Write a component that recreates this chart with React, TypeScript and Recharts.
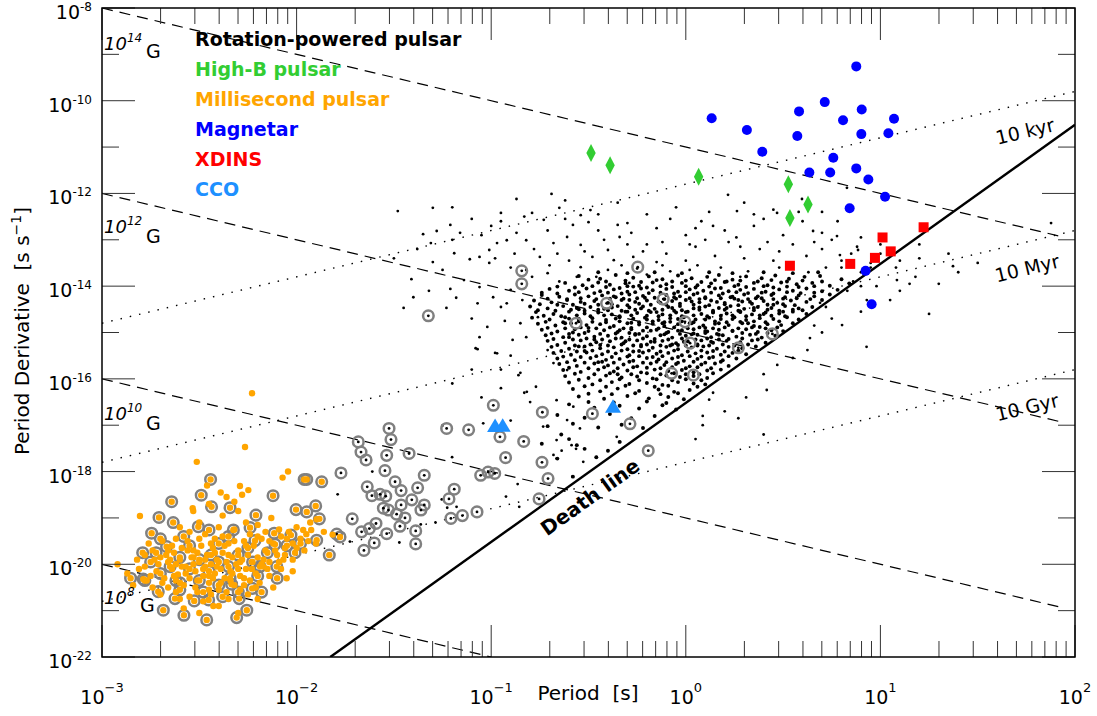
import React from 'react';
import { ComposedChart, Scatter, XAxis, YAxis } from 'recharts';

// all values are [log10 P (s), log10 Pdot (s/s)]
type Pt = [number, number];

const FONT = '"DejaVu Sans", sans-serif';
const PLOT_LEFT = 102;
const PLOT_RIGHT = 1075;
const PLOT_TOP = 8;
const PLOT_BOTTOM = 657;

const magnetars: Pt[] = [
  [0.133, -10.38], [0.314, -10.63], [0.393, -11.1], [0.582, -10.23], [0.573, -10.76], [0.714, -10.03],
  [0.876, -9.26], [0.904, -10.19], [0.808, -10.42], [1.07, -10.39], [0.902, -10.72], [1.041, -10.7],
  [0.758, -11.23], [0.635, -11.55], [0.742, -11.55], [0.876, -11.46], [0.938, -11.7], [1.024, -12.07],
  [0.842, -12.32], [0.924, -13.67], [0.955, -14.39],
];

const highB: Pt[] = [
  [-0.487, -11.13], [-0.389, -11.39], [0.066, -11.64], [0.527, -11.8], [0.628, -12.24], [0.535, -12.53],
];

const xdins: Pt[] = [
  [0.535, -13.56], [0.845, -13.52], [0.972, -13.39], [1.011, -12.95], [1.053, -13.25], [1.222, -12.73],
];

const cco: Pt[] = [[-0.98, -17.03], [-0.941, -17.02], [-0.374, -16.61]];

// sparse rotation-powered pulsars around the main cloud
const psrHalo: Pt[] = [
  [-1.48, -12.38], [-1.3, -12.31], [-0.69, -12.01], [-0.87, -12.12], [-0.95, -12.42], [-1.35, -12.88],
  [-1.28, -12.81], [-1.21, -12.68], [-1.31, -13.07], [-1.16, -12.85], [-1.41, -13.85], [-1.4, -14.24],
  [-1.45, -14.47], [-1.3, -13.48], [-1.19, -13.29], [-1.21, -14.06], [-1.23, -14.47], [-1.11, -13.42],
  [-1.07, -14.37], [-1.14, -13.87], [-1.06, -14.02], [-1.01, -13.5], [-0.99, -14.24], [-0.95, -14.45],
  [-1.02, -14.88], [-1.06, -15.1], [-1.07, -15.36], [-0.98, -15.44], [-0.92, -13.01], [-0.97, -13.07],
  [-1.01, -13.22], [-1.06, -13.37], [-0.87, -12.85], [-0.82, -13.01], [-0.79, -12.42], [-0.73, -12.57],
  [-0.65, -12.31], [-0.54, -12.47], [-0.49, -12.36], [-0.58, -12.68], [-0.68, -13.07], [-0.61, -12.94],
  [-0.54, -13.11], [-0.75, -13.37], [-0.82, -13.65], [-0.79, -13.8], [-0.71, -13.72], [-0.9, -14.08],
  [-0.92, -14.37], [-0.84, -14.3], [-0.76, -14.67], [-0.85, -14.8], [-0.82, -15.1], [-0.89, -15.16],
  [-0.71, -15.38], [-0.68, -15.66], [-0.85, -15.87], [-0.61, -15.81], [-0.54, -13.59], [-0.46, -13.8],
  [-0.48, -13.37], [-0.37, -13.44], [-0.4, -13.22], [-0.34, -12.94], [-0.3, -12.64], [-0.35, -12.68],
  [-0.27, -13.37], [-0.29, -13.93], [-1.5, -13.4], [-1.2, -12.3], [-1.1, -12.55], [-1.38, -13.2],
  [-1.25, -13.65], [-1.18, -14.25], [-1.32, -14.1], [-1.1, -14.7], [-0.93, -14.75], [-0.9, -15.5],
  [-0.95, -15.8], [-0.35, -12.2], [-0.2, -12.45], [-0.05, -12.3], [0.12, -12.4], [0.3, -12.2],
  [0.45, -12.35], [-0.62, -12.15], [-0.15, -12.75], [0.0, -12.9], [0.08, -12.6], [0.2, -12.8],
  [0.35, -12.7], [0.5, -12.9], [0.6, -12.6], [0.7, -12.85], [-0.45, -12.8], [-1.0, -12.7],
  [0.9, -12.95], [-0.2, -13.1], [-0.1, -13.3], [0.0, -13.45], [0.05, -13.15], [0.15, -13.35],
  [0.22, -13.05], [0.3, -13.4], [0.38, -13.2], [0.45, -13.45], [0.55, -13.1], [0.62, -13.35],
  [0.7, -13.2], [0.8, -13.45], [0.88, -13.15], [1.0, -13.3], [1.1, -13.45], [-0.6, -13.45],
  [-0.15, -13.48], [0.1, -13.0], [0.75, -13.0], [1.2, -13.1], [1.35, -13.3], [1.5, -13.5],
  [-0.65, -13.9], [-0.9, -13.6], [-0.4, -13.65], [-0.2, -13.75], [-0.12, -13.55], [0.02, -13.65],
  [0.18, -13.6], [0.32, -13.68], [0.48, -13.6], [0.63, -13.7], [0.72, -13.6], [0.9, -13.7],
  [1.08, -13.6], [1.18, -13.8], [1.3, -13.95], [-0.33, -13.55], [0.06, -13.55], [1.4, -13.7],
  [-0.25, -13.62], [-0.08, -13.68], [0.28, -13.8],
  [-0.95, -12.6], [-0.83, -12.5], [-0.71, -12.8], [-0.62, -12.55], [-0.5, -12.62], [-0.42, -13.0],
  [-0.28, -12.85], [-0.22, -13.25], [-0.08, -12.55], [0.02, -13.1], [0.14, -12.7], [0.26, -12.95],
  [0.4, -12.55], [0.48, -13.25], [0.58, -12.4], [0.66, -13.05], [0.78, -12.6], [0.85, -13.3],
  [-0.78, -13.2], [-0.66, -13.3], [-0.52, -13.25], [-0.3, -13.1], [-0.12, -13.05], [0.28, -13.15],
  [0.42, -13.05], [-0.98, -13.4], [-0.88, -13.3], [-0.7, -13.55], [-0.56, -13.8], [0.8, -13.6],
  [0.95, -13.5], [1.1, -14.1], [1.05, -13.2], [0.9, -14.0], [-1.2, -13.0], [-1.05, -12.9],
  [-0.45, -12.45], [0.05, -12.75], [0.35, -12.45], [0.7, -12.4],
  [0.217, -12.03], [0.263, -12.38], [0.469, -12.42], [0.597, -12.12], [0.654, -12.81], [0.777, -12.92],
  [0.792, -13.33], [0.885, -13.22], [0.828, -11.88], [1.877, -12.64], [1.085, -13.87], [1.373, -13.57],
  [0.803, -14.84], [0.69, -14.36], [0.638, -15.12], [0.625, -15.38], [0.929, -15.31], [0.95, -13.6],
  [0.98, -14.0], [1.05, -14.3], [0.9, -14.55], [0.75, -14.7], [0.7, -15.0], [1.15, -13.95],
  [1.2, -13.4], [1.0, -13.1], [0.86, -13.9], [0.93, -14.3], [0.83, -14.1], [0.72, -14.45],
  [0.66, -14.85], [1.25, -14.6], [0.55, -15.55], [0.47, -15.7], [0.4, -15.9], [0.416, -16.24],
  [0.27, -16.85], [0.087, -17.0], [0.087, -16.8], [0.12, -16.45], [0.14, -16.3], [0.31, -16.4],
  [0.2, -16.7], [0.05, -17.3], [0.4, -17.2],
  [-1.251, -17.01], [-1.041, -16.96], [-1.201, -17.69], [-1.611, -18.0], [-1.789, -18.49], [-0.864, -18.27],
  [-0.924, -18.54], [-0.856, -18.76], [-1.226, -18.78], [-1.178, -18.76], [-1.286, -19.1], [-1.362, -19.14],
  [-1.472, -19.53], [-1.726, -19.51], [-1.254, -18.6], [-0.664, -17.72], [-0.638, -17.55], [-0.564, -17.51],
  [-0.527, -17.79], [-0.458, -17.69], [-0.583, -18.11], [-0.338, -17.36], [-0.587, -17.43], [-0.733, -17.03],
  [-0.8, -16.5], [-0.83, -16.3], [-0.95, -16.2], [-1.05, -16.4], [-0.9, -16.9], [-1.1, -15.8],
  [-1.2, -16.1], [-0.817, -16.28], [-0.97, -15.45], [-1.08, -15.34], [-0.86, -15.92], [-0.77, -16.17],
  [-0.664, -16.46], [-0.578, -16.6], [-0.61, -16.89], [-0.544, -17.07], [-0.355, -17.25], [-0.68, -17.64],
  [-0.664, -17.32],
];

// the dense body of the rotation-powered population
const psrCore: Pt[] = [
  [-0.55, -13.78], [-0.44, -13.84], [-0.36, -13.76], [-0.27, -13.82], [-0.19, -13.79], [-0.12, -13.85],
  [-0.04, -13.77], [0.03, -13.83], [0.11, -13.8], [0.17, -13.76], [0.24, -13.86], [0.31, -13.79],
  [0.39, -13.83], [0.46, -13.77], [0.53, -13.84], [0.61, -13.8], [0.69, -13.78], [0.8, -13.85],
  [-0.62, -13.93], [-0.53, -13.98], [-0.45, -13.92], [-0.39, -13.97], [-0.31, -13.94], [-0.24, -13.99],
  [-0.17, -13.92], [-0.1, -13.96], [-0.02, -13.93], [0.06, -13.98], [0.13, -13.94], [0.2, -13.91],
  [0.27, -13.97], [0.35, -13.93], [0.42, -13.98], [0.49, -13.92], [0.57, -13.96], [0.65, -13.93],
  [0.74, -13.99], [0.84, -13.94],
  [-0.7, -14.06], [-0.6, -14.1], [-0.51, -14.05], [-0.44, -14.11], [-0.37, -14.07], [-0.3, -14.12],
  [-0.23, -14.05], [-0.17, -14.09], [-0.1, -14.06], [-0.04, -14.12], [0.02, -14.07], [0.09, -14.1],
  [0.15, -14.05], [0.22, -14.11], [0.28, -14.08], [0.35, -14.06], [0.41, -14.12], [0.48, -14.07],
  [0.55, -14.1], [0.62, -14.05], [0.7, -14.11], [0.78, -14.08],
  [-0.74, -14.19], [-0.65, -14.23], [-0.57, -14.18], [-0.5, -14.22], [-0.43, -14.2], [-0.36, -14.24],
  [-0.29, -14.18], [-0.22, -14.21], [-0.16, -14.25], [-0.1, -14.19], [-0.03, -14.22], [0.04, -14.18],
  [0.1, -14.24], [0.17, -14.2], [0.24, -14.23], [0.3, -14.18], [0.37, -14.22], [0.44, -14.19],
  [0.51, -14.24], [0.58, -14.2], [0.66, -14.22], [0.74, -14.18],
  [-0.78, -14.31], [-0.69, -14.35], [-0.61, -14.3], [-0.54, -14.34], [-0.47, -14.32], [-0.4, -14.36],
  [-0.33, -14.3], [-0.26, -14.34], [-0.2, -14.31], [-0.13, -14.36], [-0.07, -14.32], [0.0, -14.3],
  [0.07, -14.35], [0.13, -14.31], [0.2, -14.36], [0.27, -14.3], [0.33, -14.34], [0.4, -14.32],
  [0.47, -14.36], [0.54, -14.31], [0.62, -14.34], [0.7, -14.3],
  [-0.8, -14.44], [-0.71, -14.48], [-0.63, -14.43], [-0.56, -14.47], [-0.49, -14.45], [-0.42, -14.49],
  [-0.35, -14.43], [-0.29, -14.46], [-0.22, -14.44], [-0.16, -14.49], [-0.09, -14.45], [-0.03, -14.43],
  [0.04, -14.48], [0.1, -14.44], [0.17, -14.47], [0.23, -14.43], [0.3, -14.49], [0.37, -14.45],
  [0.44, -14.47], [0.51, -14.43], [0.58, -14.48], [0.65, -14.45],
  [-0.77, -14.56], [-0.68, -14.6], [-0.6, -14.55], [-0.52, -14.59], [-0.45, -14.57], [-0.38, -14.61],
  [-0.31, -14.55], [-0.25, -14.58], [-0.18, -14.56], [-0.12, -14.61], [-0.05, -14.57], [0.01, -14.55],
  [0.08, -14.6], [0.14, -14.56], [0.21, -14.59], [0.28, -14.55], [0.34, -14.61], [0.41, -14.57],
  [0.48, -14.59], [0.55, -14.55], [0.62, -14.6],
  [-0.79, -14.68], [-0.7, -14.72], [-0.62, -14.67], [-0.55, -14.71], [-0.48, -14.69], [-0.41, -14.73],
  [-0.34, -14.67], [-0.27, -14.7], [-0.21, -14.68], [-0.14, -14.73], [-0.08, -14.69], [-0.01, -14.67],
  [0.05, -14.72], [0.12, -14.68], [0.18, -14.71], [0.25, -14.67], [0.31, -14.73], [0.38, -14.69],
  [0.45, -14.71], [0.52, -14.67], [0.58, -14.72],
  [-0.76, -14.81], [-0.67, -14.85], [-0.59, -14.8], [-0.51, -14.84], [-0.44, -14.82], [-0.37, -14.86],
  [-0.3, -14.8], [-0.24, -14.83], [-0.17, -14.81], [-0.11, -14.86], [-0.04, -14.82], [0.02, -14.8],
  [0.09, -14.85], [0.15, -14.81], [0.22, -14.84], [0.29, -14.8], [0.35, -14.86], [0.42, -14.82],
  [0.49, -14.84], [0.55, -14.8],
  [-0.74, -14.94], [-0.66, -14.98], [-0.57, -14.93], [-0.5, -14.97], [-0.42, -14.95], [-0.35, -14.99],
  [-0.28, -14.93], [-0.22, -14.96], [-0.15, -14.94], [-0.09, -14.99], [-0.02, -14.95], [0.04, -14.93],
  [0.11, -14.98], [0.17, -14.94], [0.24, -14.97], [0.31, -14.93], [0.37, -14.99], [0.44, -14.95],
  [0.5, -14.97],
  [-0.72, -15.06], [-0.63, -15.1], [-0.55, -15.05], [-0.47, -15.09], [-0.4, -15.07], [-0.33, -15.11],
  [-0.26, -15.05], [-0.2, -15.08], [-0.13, -15.06], [-0.07, -15.11], [0.0, -15.07], [0.06, -15.05],
  [0.13, -15.1], [0.19, -15.06], [0.26, -15.09], [0.33, -15.05], [0.39, -15.11], [0.46, -15.07],
  [-0.71, -15.18], [-0.62, -15.22], [-0.54, -15.17], [-0.46, -15.21], [-0.39, -15.19], [-0.32, -15.23],
  [-0.25, -15.17], [-0.18, -15.2], [-0.12, -15.18], [-0.05, -15.23], [0.01, -15.19], [0.08, -15.17],
  [0.14, -15.22], [0.21, -15.18], [0.28, -15.21], [0.34, -15.17], [0.41, -15.22],
  [-0.69, -15.31], [-0.6, -15.35], [-0.52, -15.3], [-0.44, -15.34], [-0.37, -15.32], [-0.3, -15.36],
  [-0.23, -15.3], [-0.17, -15.33], [-0.1, -15.31], [-0.04, -15.36], [0.03, -15.32], [0.09, -15.3],
  [0.16, -15.35], [0.22, -15.31], [0.29, -15.34], [0.36, -15.3],
  [-0.68, -15.44], [-0.59, -15.48], [-0.51, -15.43], [-0.43, -15.47], [-0.36, -15.45], [-0.29, -15.49],
  [-0.22, -15.43], [-0.15, -15.46], [-0.09, -15.44], [-0.02, -15.49], [0.05, -15.45], [0.11, -15.43],
  [0.18, -15.48], [0.24, -15.44], [0.31, -15.47],
  [-0.66, -15.56], [-0.57, -15.6], [-0.49, -15.55], [-0.41, -15.59], [-0.34, -15.57], [-0.27, -15.61],
  [-0.2, -15.55], [-0.14, -15.58], [-0.07, -15.56], [-0.01, -15.61], [0.06, -15.57], [0.12, -15.55],
  [0.19, -15.6], [0.26, -15.56],
  [-0.65, -15.68], [-0.56, -15.72], [-0.47, -15.67], [-0.4, -15.71], [-0.32, -15.69], [-0.25, -15.73],
  [-0.18, -15.67], [-0.11, -15.7], [-0.05, -15.68], [0.02, -15.73], [0.08, -15.69], [0.15, -15.67],
  [0.22, -15.72],
  [-0.63, -15.81], [-0.54, -15.85], [-0.45, -15.8], [-0.37, -15.84], [-0.3, -15.82], [-0.23, -15.86],
  [-0.16, -15.8], [-0.09, -15.83], [-0.02, -15.81], [0.04, -15.86], [0.11, -15.82], [0.18, -15.8],
  [-0.62, -15.94], [-0.5, -15.98], [-0.41, -15.93], [-0.33, -15.97], [-0.25, -15.95], [-0.17, -15.99],
  [-0.1, -15.93], [-0.03, -15.96], [0.04, -15.94], [0.11, -15.98],
  [-0.6, -16.08], [-0.48, -16.12], [-0.38, -16.07], [-0.29, -16.11], [-0.2, -16.09], [-0.12, -16.13],
  [-0.04, -16.07], [0.04, -16.1], [0.1, -16.12],
  [-0.58, -16.22], [-0.44, -16.27], [-0.35, -16.21], [-0.24, -16.26], [-0.14, -16.23], [-0.06, -16.28],
  [0.02, -16.24],
  [-0.55, -16.38], [-0.42, -16.43], [-0.3, -16.37], [-0.19, -16.42], [-0.09, -16.39], [-0.01, -16.44],
  [-0.6, -16.55], [-0.47, -16.62], [-0.34, -16.58], [-0.24, -16.64], [-0.12, -16.57], [-0.05, -16.66],
  [-0.66, -16.78], [-0.52, -16.84], [-0.39, -16.76], [-0.28, -16.85], [-0.16, -16.8],
  [-0.71, -17.02], [-0.58, -16.97], [-0.45, -17.05], [-0.33, -16.99], [-0.22, -17.06],
  [-0.64, -17.2], [-0.56, -17.43], [-0.52, -17.51], [-0.46, -17.69], [-0.58, -18.11], [-0.66, -17.72],
  [-0.34, -17.36], [-0.6, -17.3], [-0.4, -17.55], [-0.74, -17.4],
  [-0.32, -14.27], [-0.18, -14.4], [-0.05, -14.27], [0.12, -14.41], [0.25, -14.27], [-0.4, -14.52],
  [-0.2, -14.64], [-0.02, -14.52], [0.18, -14.64], [0.35, -14.52], [-0.48, -14.77], [-0.28, -14.9],
  [-0.08, -14.77], [0.1, -14.9], [0.28, -14.77], [-0.36, -15.02], [-0.16, -15.14], [0.04, -15.02],
  [0.22, -15.14], [-0.44, -15.27], [-0.24, -15.4], [-0.04, -15.27], [0.14, -15.4], [-0.3, -15.52],
  [-0.1, -15.64], [0.08, -15.52], [-0.45, -15.64], [-0.6, -15.1], [-0.62, -14.8], [-0.58, -14.4],
  [0.5, -14.27], [0.6, -14.52], [0.44, -14.64], [-0.52, -15.4], [-0.2, -15.76], [0.0, -15.9],
  [-0.35, -15.9], [0.4, -14.0], [0.0, -14.0], [-0.3, -14.0],
];

// more of the dense body, read between the rows above
const psrCoreFill: Pt[] = [
  [-0.45, -13.7], [-0.3, -13.72], [-0.16, -13.7], [-0.02, -13.72], [0.12, -13.7], [0.24, -13.72],
  [0.4, -13.7], [0.55, -13.72], [0.68, -13.7],
  [-0.5, -13.86], [-0.41, -13.9], [-0.31, -13.88], [-0.23, -13.91], [-0.15, -13.87], [-0.07, -13.9],
  [0.0, -13.88], [0.08, -13.91], [0.15, -13.87], [0.21, -13.9], [0.28, -13.88], [0.37, -13.9],
  [0.44, -13.87], [0.52, -13.9], [0.6, -13.88], [0.7, -13.9],
  [-0.66, -14.01], [-0.57, -14.03], [-0.48, -14.0], [-0.41, -14.02], [-0.34, -14.04], [-0.27, -14.01],
  [-0.2, -14.03], [-0.13, -14.0], [-0.07, -14.02], [0.05, -14.03], [0.12, -14.01], [0.18, -14.04],
  [0.25, -14.0], [0.31, -14.02], [0.45, -14.03], [0.52, -14.01], [0.58, -14.02], [0.66, -14.0],
  [-0.74, -14.14], [-0.66, -14.16], [-0.55, -14.13], [-0.47, -14.15], [-0.4, -14.14], [-0.33, -14.16],
  [-0.26, -14.13], [-0.19, -14.15], [-0.13, -14.14], [-0.06, -14.16], [0.0, -14.13], [0.06, -14.15],
  [0.13, -14.14], [0.19, -14.16], [0.26, -14.13], [0.32, -14.15], [0.39, -14.14], [0.45, -14.16],
  [0.52, -14.13], [0.59, -14.15], [0.66, -14.14],
  [-0.71, -14.27], [-0.61, -14.28], [-0.54, -14.26], [-0.46, -14.28], [-0.39, -14.27], [-0.25, -14.26],
  [-0.11, -14.28], [0.02, -14.26], [0.07, -14.28], [0.18, -14.26], [0.32, -14.28], [0.39, -14.26],
  [0.45, -14.28], [0.57, -14.26], [0.64, -14.28],
  [-0.75, -14.39], [-0.66, -14.4], [-0.52, -14.38], [-0.45, -14.4], [-0.38, -14.39], [-0.3, -14.41],
  [-0.24, -14.38], [-0.1, -14.4], [-0.03, -14.38], [0.04, -14.4], [0.2, -14.39], [0.27, -14.41],
  [0.34, -14.38], [0.42, -14.4], [0.5, -14.39], [0.56, -14.41],
  [-0.76, -14.52], [-0.67, -14.53], [-0.59, -14.51], [-0.52, -14.53], [-0.45, -14.51], [-0.33, -14.53],
  [-0.26, -14.51], [-0.19, -14.53], [-0.12, -14.51], [-0.06, -14.53], [0.07, -14.51], [0.14, -14.53],
  [0.2, -14.51], [0.27, -14.53], [0.42, -14.51], [0.48, -14.53], [0.55, -14.51],
  [-0.73, -14.64], [-0.64, -14.65], [-0.56, -14.63], [-0.49, -14.65], [-0.42, -14.63], [-0.34, -14.65],
  [-0.28, -14.63], [-0.14, -14.65], [-0.08, -14.63], [-0.02, -14.65], [0.04, -14.63], [0.11, -14.65],
  [0.24, -14.63], [0.31, -14.65], [0.38, -14.63], [0.51, -14.65],
  [-0.72, -14.77], [-0.63, -14.78], [-0.55, -14.76], [-0.41, -14.78], [-0.34, -14.76], [-0.24, -14.78],
  [-0.17, -14.76], [-0.11, -14.78], [-0.02, -14.76], [0.04, -14.78], [0.15, -14.76], [0.21, -14.78],
  [0.35, -14.76], [0.41, -14.78], [0.48, -14.76],
  [-0.71, -14.9], [-0.62, -14.91], [-0.54, -14.89], [-0.46, -14.91], [-0.39, -14.89], [-0.32, -14.91],
  [-0.2, -14.89], [-0.14, -14.91], [-0.06, -14.89], [0.01, -14.91], [0.07, -14.89], [0.14, -14.91],
  [0.2, -14.89], [0.27, -14.91], [0.34, -14.89], [0.41, -14.91], [0.47, -14.89],
  [-0.69, -15.02], [-0.6, -15.03], [-0.52, -15.01], [-0.44, -15.03], [-0.29, -15.01], [-0.24, -15.03],
  [-0.1, -15.01], [-0.03, -15.03], [0.1, -15.01], [0.16, -15.03], [0.29, -15.01], [0.36, -15.03],
  [0.42, -15.01],
  [-0.68, -15.14], [-0.58, -15.15], [-0.51, -15.13], [-0.43, -15.15], [-0.36, -15.13], [-0.29, -15.15],
  [-0.22, -15.13], [-0.09, -15.15], [-0.02, -15.13], [0.05, -15.15], [0.11, -15.13], [0.17, -15.15],
  [0.29, -15.13], [0.37, -15.15],
  [-0.66, -15.27], [-0.57, -15.28], [-0.49, -15.26], [-0.4, -15.28], [-0.33, -15.26], [-0.27, -15.28],
  [-0.2, -15.26], [-0.13, -15.28], [-0.07, -15.26], [0.0, -15.28], [0.06, -15.26], [0.12, -15.28],
  [0.19, -15.26], [0.25, -15.28], [0.32, -15.26],
  [-0.64, -15.4], [-0.56, -15.41], [-0.48, -15.39], [-0.4, -15.41], [-0.33, -15.39], [-0.27, -15.41],
  [-0.19, -15.39], [-0.13, -15.41], [-0.06, -15.39], [0.01, -15.41], [0.08, -15.39], [0.2, -15.41],
  [0.27, -15.39],
  [-0.63, -15.52], [-0.54, -15.53], [-0.46, -15.51], [-0.38, -15.53], [-0.24, -15.51], [-0.17, -15.53],
  [-0.12, -15.51], [-0.04, -15.53], [0.02, -15.51], [0.14, -15.53], [0.22, -15.51],
  [-0.61, -15.64], [-0.52, -15.65], [-0.43, -15.63], [-0.37, -15.65], [-0.29, -15.63], [-0.22, -15.65],
  [-0.15, -15.63], [-0.04, -15.65], [0.04, -15.63], [0.1, -15.65], [0.18, -15.63],
  [-0.6, -15.76], [-0.5, -15.77], [-0.42, -15.75], [-0.35, -15.77], [-0.27, -15.75], [-0.13, -15.77],
  [-0.07, -15.75], [0.0, -15.77], [0.06, -15.75], [0.13, -15.77],
  [-0.57, -15.89], [-0.47, -15.9], [-0.39, -15.88], [-0.28, -15.9], [-0.2, -15.88], [-0.13, -15.9],
  [-0.06, -15.88], [0.07, -15.9], [0.14, -15.88],
  [-0.55, -16.02], [-0.44, -16.03], [-0.34, -16.01], [-0.24, -16.03], [-0.15, -16.01], [-0.07, -16.03],
  [0.0, -16.01], [0.08, -16.03],
  [-0.52, -16.16], [-0.41, -16.17], [-0.31, -16.15], [-0.16, -16.17], [-0.09, -16.15], [0.06, -16.17],
  [-0.5, -16.32], [-0.38, -16.33], [-0.26, -16.31], [-0.13, -16.33], [-0.04, -16.31],
  [-0.5, -16.5], [-0.37, -16.51], [-0.2, -16.49], [-0.1, -16.52],
  [-0.37, -14.22], [-0.29, -14.3], [-0.21, -14.25], [-0.14, -14.33], [-0.06, -14.24], [0.03, -14.33],
  [0.1, -14.26], [0.16, -14.34], [0.23, -14.24], [0.29, -14.33], [0.36, -14.26],
  [-0.38, -14.46], [-0.3, -14.55], [-0.23, -14.48], [-0.15, -14.56], [-0.07, -14.47], [0.0, -14.56],
  [0.07, -14.46], [0.14, -14.57], [0.21, -14.47], [0.28, -14.56], [0.35, -14.47],
  [-0.36, -14.7], [-0.28, -14.79], [-0.2, -14.72], [-0.12, -14.8], [-0.04, -14.71], [0.03, -14.8],
  [0.1, -14.72], [0.17, -14.8], [0.24, -14.71], [0.32, -14.8],
  [-0.34, -14.95], [-0.26, -15.03], [-0.18, -14.96], [-0.11, -15.04], [-0.04, -14.96], [0.03, -15.04],
  [0.1, -14.97], [0.17, -15.05], [0.24, -14.96],
  [-0.31, -15.19], [-0.23, -15.27], [-0.16, -15.2], [-0.08, -15.28], [-0.01, -15.2], [0.06, -15.28],
  [0.13, -15.2],
  [-0.55, -14.5], [-0.6, -14.7], [-0.5, -14.9], [-0.58, -15.0], [-0.47, -15.15], [-0.55, -15.3],
  [0.45, -14.4], [0.4, -14.6], [0.5, -14.55], [0.38, -14.88],
];

// binary rotation-powered pulsars (ringed, black centre)
const psrBinary: Pt[] = [
  [-1.525, -17.07], [-1.515, -17.31], [-1.683, -17.36], [-1.669, -17.58], [-1.643, -17.75], [-1.537, -17.65],
  [-1.422, -17.61], [-1.772, -18.03], [-1.546, -17.98], [-1.637, -18.33], [-1.494, -18.22], [-1.344, -18.08],
  [-1.378, -18.35], [-1.463, -18.41], [-1.613, -18.52], [-1.571, -18.49], [-1.542, -18.53], [-1.408, -18.61],
  [-1.463, -18.72], [-1.344, -18.72], [-1.361, -18.83], [-1.554, -18.79], [-1.528, -18.83], [-1.486, -18.92],
  [-1.443, -19.0], [-1.714, -19.02], [-1.592, -19.12], [-1.626, -19.23], [-1.666, -19.3], [-1.537, -19.34],
  [-1.469, -19.18], [-1.388, -19.28], [-1.601, -19.54], [-1.654, -19.7], [-1.388, -19.56], [-1.794, -19.35],
  [-1.229, -17.07], [-1.116, -17.1], [-0.989, -16.57], [-0.955, -17.25], [-0.926, -17.7], [-1.054, -18.08],
  [-1.016, -18.01], [-0.982, -18.04], [-1.217, -18.59], [-1.19, -18.38], [-1.073, -18.87], [-1.148, -18.95],
  [-1.207, -19.01], [-0.833, -17.35], [-0.739, -17.8], [-0.708, -18.15], [-0.754, -18.59], [-0.737, -16.72],
  [-0.48, -16.75], [-0.287, -16.97], [-0.193, -17.55], [-0.843, -13.67], [-0.843, -13.95], [-1.323, -14.64],
  [-0.247, -13.59], [-0.116, -14.28], [0.022, -15.23], [0.27, -15.33], [0.445, -15.03], [-0.073, -15.88],
  [0.039, -15.92], [-0.407, -14.37], [-0.004, -14.77], [-0.564, -14.8],
];

// isolated millisecond pulsars
const mspIsolated: Pt[] = [
  [-2.229, -16.31], [-2.265, -17.47], [-2.513, -17.79], [-2.044, -18.0], [-2.072, -18.13], [-2.291, -18.31],
  [-2.248, -18.4], [-2.805, -18.96], [-2.534, -18.79], [-2.051, -20.3], [-2.428, -20.9], [-1.966, -19.26],
  [-2.068, -19.9], [-1.897, -19.03], [-1.925, -19.26], [-1.815, -19.36], [-2.531, -18.85],
  [-2.82, -19.9], [-2.78, -20.05], [-2.74, -19.7], [-2.72, -20.15], [-2.7, -19.85], [-2.68, -20.3],
  [-2.66, -19.95], [-2.64, -20.1], [-2.63, -19.75], [-2.61, -20.22], [-2.6, -19.9], [-2.58, -20.45],
  [-2.57, -20.05], [-2.56, -19.7], [-2.55, -20.3], [-2.53, -19.85], [-2.52, -20.15], [-2.51, -20.6],
  [-2.5, -19.95], [-2.49, -19.6], [-2.48, -20.25], [-2.47, -20.05], [-2.46, -19.8], [-2.45, -20.4],
  [-2.44, -20.0], [-2.43, -19.65], [-2.42, -20.2], [-2.41, -19.9], [-2.4, -20.55], [-2.39, -20.1],
  [-2.38, -19.75], [-2.37, -20.3], [-2.36, -19.95], [-2.35, -19.55], [-2.34, -20.15], [-2.33, -19.85],
  [-2.32, -20.45], [-2.31, -20.0], [-2.3, -19.7], [-2.29, -20.25], [-2.28, -19.9], [-2.27, -19.5],
  [-2.26, -20.1], [-2.25, -19.8], [-2.24, -20.35], [-2.23, -19.95], [-2.22, -19.6], [-2.21, -20.2],
  [-2.2, -19.85], [-2.18, -19.45], [-2.17, -20.05], [-2.16, -19.7], [-2.14, -19.95], [-2.12, -19.55],
  [-2.1, -19.8], [-2.08, -19.4], [-2.06, -19.65], [-2.04, -19.3], [-2.02, -19.55], [-2.0, -19.2],
  [-1.98, -19.45], [-1.95, -19.35], [-1.93, -19.1],
  [-2.62, -20.6], [-2.55, -20.7], [-2.48, -20.8], [-2.44, -20.65], [-2.35, -20.75], [-2.29, -20.55],
  [-2.66, -20.5], [-2.7, -20.65], [-2.58, -20.95], [-2.4, -20.9],
  [-2.76, -19.55], [-2.69, -19.5], [-2.62, -19.45], [-2.55, -19.3], [-2.47, -19.35], [-2.4, -19.2],
  [-2.32, -19.25], [-2.26, -19.1], [-2.2, -19.15], [-2.13, -19.0], [-2.6, -19.2], [-2.5, -19.1],
  [-2.38, -18.95], [-2.3, -18.85], [-2.45, -18.7], [-2.36, -18.55], [-2.46, -18.3], [-2.39, -18.45],
  [-2.32, -18.65], [-2.28, -18.5],
  [-2.53, -20.0], [-2.43, -20.3], [-2.34, -20.35], [-2.27, -20.45], [-2.19, -20.4], [-2.14, -20.25],
  [-2.08, -20.1], [-2.02, -19.9], [-2.64, -19.6], [-2.73, -19.9], [-2.67, -19.8], [-2.59, -19.65],
  [-2.51, -19.75], [-2.42, -19.45], [-2.37, -19.6], [-2.24, -19.35], [-2.16, -19.3], [-2.09, -19.25],
  [-2.87, -20.2], [-2.92, -20.0], [-2.84, -20.45], [-2.77, -20.35], [-2.12, -20.5], [-2.02, -20.15],
  [-1.96, -19.7], [-1.9, -19.55], [-1.86, -19.3], [-2.3, -21.05], [-2.5, -21.05], [-2.2, -20.75],
  [-2.78, -19.8], [-2.71, -20.0], [-2.65, -19.9], [-2.59, -20.05], [-2.53, -19.7], [-2.47, -19.9],
  [-2.41, -20.05], [-2.35, -19.8], [-2.29, -19.95], [-2.23, -20.1], [-2.17, -19.9], [-2.11, -19.7],
  [-2.05, -19.45], [-2.75, -20.25], [-2.69, -20.4], [-2.63, -20.25], [-2.57, -20.2], [-2.51, -20.35],
  [-2.45, -20.25], [-2.39, -20.4], [-2.33, -20.2], [-2.27, -20.3], [-2.21, -20.5], [-2.15, -20.1],
  [-2.09, -19.95], [-2.56, -19.5], [-2.5, -19.45], [-2.44, -19.55], [-2.38, -19.4], [-2.32, -19.5],
  [-2.26, -19.6], [-2.2, -19.4], [-2.14, -19.5], [-2.81, -20.1], [-2.74, -20.5], [-2.6, -20.75],
  [-2.52, -20.5], [-2.45, -20.55], [-2.36, -20.6], [-2.25, -20.65], [-2.66, -19.7], [-2.54, -19.85],
  [-2.42, -19.75], [-2.3, -20.1], [-2.18, -20.0], [-2.06, -19.8], [-2.0, -19.65], [-1.94, -19.5],
  [-2.62, -20.0], [-2.48, -20.1],
];

// binary millisecond pulsars (ringed, orange centre)
const mspBinary: Pt[] = [
  [-2.442, -18.17], [-2.49, -18.51], [-2.642, -18.65], [-2.121, -18.52], [-1.961, -18.17], [-2.003, -18.82],
  [-2.209, -18.94], [-2.342, -18.78], [-2.437, -18.76], [-2.707, -18.99], [-2.634, -19.1], [-2.505, -19.19],
  [-2.325, -19.26], [-2.239, -19.21], [-2.115, -19.33], [-2.029, -19.37], [-2.745, -19.33], [-2.214, -19.49],
  [-2.45, -19.26], [-2.791, -19.75], [-2.722, -19.75], [-2.668, -19.62], [-2.008, -19.75], [-2.111, -19.57],
  [-2.853, -20.3], [-2.788, -20.32], [-2.711, -20.59], [-2.685, -20.99], [-2.579, -21.1], [-2.462, -21.2],
  [-2.308, -21.15], [-2.256, -20.99], [-2.295, -20.74], [-2.228, -20.52], [-2.526, -20.79], [-2.452, -20.77],
  [-2.625, -20.74], [-2.599, -20.4], [-2.342, -20.3], [-2.188, -20.05], [-2.102, -20.05], [-1.871, -18.22],
  [-1.948, -18.17], [-1.902, -18.74], [-1.948, -18.87], [-1.883, -19.02], [-1.897, -19.48], [-1.832, -19.8],
  [-1.777, -19.41], [-2.334, -20.43], [-2.226, -19.95], [-2.78, -20.35],
  [-2.6, -19.85], [-2.5, -19.9], [-2.4, -19.95], [-2.3, -19.8], [-2.55, -20.1], [-2.45, -20.15],
  [-2.35, -20.05], [-2.65, -20.05], [-2.7, -20.2], [-2.5, -20.35], [-2.4, -20.45], [-2.2, -20.25],
  [-2.6, -20.55], [-2.48, -20.6], [-2.38, -20.7], [-2.15, -19.75], [-2.25, -19.65], [-2.4, -19.55],
  [-2.55, -19.6], [-2.7, -19.45], [-2.35, -19.4], [-2.05, -19.6], [-1.98, -19.55], [-2.58, -19.4],
  [-2.44, -19.8], [-2.3, -20.6], [-2.62, -20.35], [-2.75, -19.95], [-2.18, -20.6], [-2.1, -20.3],
];

// reference lines, endpoints in log10 space
const bField14: Pt[] = [[-3, -8], [1.93, -12.93]];
const bField12: Pt[] = [[-3, -12], [1.93, -16.93]];
const bField10: Pt[] = [[-3, -16], [1.93, -20.93]];
const bField8: Pt[] = [[-3, -20], [-1, -22]];
const age10kyr: Pt[] = [[-3, -14.8], [2, -9.8]];
const age10Myr: Pt[] = [[-3, -17.8], [2, -12.8]];
const age10Gyr: Pt[] = [[-3, -20.8], [2, -15.8]];
const deathLine: Pt[] = [[-1.827, -22], [2, -10.52]];

const legendItems = [
  { label: 'Rotation-powered pulsar', color: '#000000' },
  { label: 'High-B pulsar', color: '#32CD32' },
  { label: 'Millisecond pulsar', color: '#FFA500' },
  { label: 'Magnetar', color: '#0000FF' },
  { label: 'XDINS', color: '#FF0000' },
  { label: 'CCO', color: '#1E90FF' },
];

const xDecades = [-3, -2, -1, 0, 1, 2];
const xMinorSteps = [2, 3, 4, 5, 6, 7, 8, 9];
const yDecades = [-22, -21, -20, -19, -18, -17, -16, -15, -14, -13, -12, -11, -10, -9, -8];

const xTicks = xDecades.flatMap((d) =>
  d < 2 ? [Math.pow(10, d), ...xMinorSteps.map((m) => m * Math.pow(10, d))] : [Math.pow(10, d)]
);
const yTicks = yDecades.map((d) => Math.pow(10, d));

const toData = (pts: Pt[]) => pts.map(([lp, lpd]) => ({ p: Math.pow(10, lp), pdot: Math.pow(10, lpd) }));

const isDecade = (v: number) => {
  const e = Math.log10(v);
  return Math.abs(e - Math.round(e)) < 1e-6;
};

const XTick = (props: any) => {
  const { x, payload } = props;
  const major = isDecade(payload.value);
  const exp = Math.round(Math.log10(payload.value));
  const len = major ? 32 : 16;
  return (
    <g>
      <line x1={x} x2={x} y1={PLOT_BOTTOM} y2={PLOT_BOTTOM - len} stroke="#333" strokeWidth={1} />
      <line x1={x} x2={x} y1={PLOT_TOP} y2={PLOT_TOP + len} stroke="#333" strokeWidth={1} />
      {major && (
        <text x={x} y={704} textAnchor="middle" fontSize={19} fontFamily={FONT} fill="#000">
          10<tspan dy={-12} fontSize={13}>{exp < 0 ? '\u2212' + -exp : String(exp)}</tspan>
        </text>
      )}
    </g>
  );
};

const YTick = (props: any) => {
  const { y, payload } = props;
  const exp = Math.round(Math.log10(payload.value));
  const major = exp % 2 === 0;
  const len = major ? 33 : 17;
  return (
    <g>
      <line x1={PLOT_LEFT} x2={PLOT_LEFT + len} y1={y} y2={y} stroke="#333" strokeWidth={1} />
      <line x1={PLOT_RIGHT} x2={PLOT_RIGHT - len} y1={y} y2={y} stroke="#333" strokeWidth={1} />
      {major && (
        <text x={92} y={y + 11} textAnchor="end" fontSize={19} fontFamily={FONT} fill="#000">
          10<tspan dy={-8} fontSize={12}>{'-' + -exp}</tspan>
        </text>
      )}
    </g>
  );
};

const blackDot = (props: any) => <circle cx={props.cx} cy={props.cy} r={1.4} fill="#000" />;
const coreDot = (props: any) => <circle cx={props.cx} cy={props.cy} r={1.95} fill="#000" />;
const ring = (props: any) => (
  <circle cx={props.cx} cy={props.cy} r={5.3} fill="none" stroke="#808080" strokeWidth={2.5} />
);
const orangeDot = (props: any) => <circle cx={props.cx} cy={props.cy} r={3.2} fill="#FFA500" />;
const blueDot = (props: any) => <circle cx={props.cx} cy={props.cy} r={5} fill="#0000FF" />;
const redSquare = (props: any) => (
  <rect x={props.cx - 5} y={props.cy - 5} width={10} height={10} fill="#FF0000" />
);
const greenDiamond = (props: any) => (
  <polygon
    points={`${props.cx},${props.cy - 9} ${props.cx + 4.7},${props.cy} ${props.cx},${props.cy + 9} ${props.cx - 4.7},${props.cy}`}
    fill="#32CD32"
  />
);
const blueTriangle = (props: any) => (
  <polygon
    points={`${props.cx},${props.cy - 8} ${props.cx + 8},${props.cy + 5.5} ${props.cx - 8},${props.cy + 5.5}`}
    fill="#1E90FF"
  />
);
const noShape = () => <g />;

const dashed = { stroke: '#000', strokeWidth: 1.2, strokeDasharray: '11 7' };
const dotted = { stroke: '#000', strokeWidth: 1.4, strokeDasharray: '1.5 8' };

export default function App() {
  const lines = [
    { key: 'b14', pts: bField14, style: dashed },
    { key: 'b12', pts: bField12, style: dashed },
    { key: 'b10', pts: bField10, style: dashed },
    { key: 'b8', pts: bField8, style: dashed },
    { key: 'kyr', pts: age10kyr, style: dotted },
    { key: 'myr', pts: age10Myr, style: dotted },
    { key: 'gyr', pts: age10Gyr, style: dotted },
    { key: 'death', pts: deathLine, style: { stroke: '#000', strokeWidth: 2.4 } },
  ];

  const bLabels = [
    { exp: '14', y10: 50, yG: 58, gx: 146 },
    { exp: '12', y10: 233, yG: 243, gx: 146 },
    { exp: '10', y10: 420, yG: 430, gx: 146 },
    { exp: '8', y10: 604, yG: 612, gx: 140 },
  ];
  const ageLabels = [
    { text: '10 kyr', cx: 1025, cy: 131 },
    { text: '10 Myr', cx: 1027, cy: 268 },
    { text: '10 Gyr', cx: 1027, cy: 407 },
  ];

  return (
    <div style={{ position: 'absolute', left: 0, top: 0, width: 1097, height: 716, background: '#fff' }}>
      <ComposedChart width={1097} height={716} margin={{ top: 8, right: 22, bottom: 0, left: 0 }}>
        <XAxis
          dataKey="p"
          type="number"
          scale="log"
          domain={[1e-3, 1e2]}
          allowDataOverflow
          ticks={xTicks}
          interval={0}
          height={59}
          tickLine={false}
          axisLine={false}
          tick={(p: any) => <XTick {...p} />}
        />
        <YAxis
          dataKey="pdot"
          type="number"
          scale="log"
          domain={[1e-22, 1e-8]}
          allowDataOverflow
          ticks={yTicks}
          interval={0}
          width={102}
          tickLine={false}
          axisLine={false}
          tick={(p: any) => <YTick {...p} />}
        />
        {lines.map((l) => (
          <Scatter
            key={l.key}
            data={toData(l.pts)}
            line={l.style}
            shape={noShape}
            legendType="none"
            isAnimationActive={false}
          />
        ))}
        <Scatter data={toData(psrHalo)} shape={blackDot} isAnimationActive={false} />
        <Scatter data={toData([...psrCore, ...psrCoreFill])} shape={coreDot} isAnimationActive={false} />
        <Scatter data={toData([...psrBinary, ...mspBinary])} shape={ring} isAnimationActive={false} />
        <Scatter data={toData(psrBinary)} shape={blackDot} isAnimationActive={false} />
        <Scatter data={toData(mspIsolated)} shape={orangeDot} isAnimationActive={false} />
        <Scatter data={toData(mspBinary)} shape={orangeDot} isAnimationActive={false} />
        <Scatter data={toData(highB)} shape={greenDiamond} isAnimationActive={false} />
        <Scatter data={toData(magnetars)} shape={blueDot} isAnimationActive={false} />
        <Scatter data={toData(xdins)} shape={redSquare} isAnimationActive={false} />
        <Scatter data={toData(cco)} shape={blueTriangle} isAnimationActive={false} />
      </ComposedChart>
      <svg
        width={1097}
        height={716}
        style={{ position: 'absolute', left: 0, top: 0, pointerEvents: 'none' }}
        fontFamily={FONT}
      >
        <rect
          x={PLOT_LEFT}
          y={PLOT_TOP}
          width={PLOT_RIGHT - PLOT_LEFT}
          height={PLOT_BOTTOM - PLOT_TOP}
          fill="none"
          stroke="#000"
          strokeWidth={1.5}
        />
        {legendItems.map((item, i) => (
          <text key={item.label} x={195} y={46 + 30 * i} fontSize={19} fontWeight="bold" fill={item.color}>
            {item.label}
          </text>
        ))}
        {bLabels.map((b) => (
          <g key={b.exp}>
            <text x={104} y={b.y10} fontSize={18} fontStyle="italic" fill="#000">
              10<tspan dy={-8} fontSize={12}>{b.exp}</tspan>
            </text>
            <text x={b.gx} y={b.yG} fontSize={19} fill="#000">G</text>
          </g>
        ))}
        {ageLabels.map((a) => (
          <text
            key={a.text}
            x={a.cx}
            y={a.cy}
            fontSize={19}
            textAnchor="middle"
            dominantBaseline="central"
            transform={`rotate(-13.4 ${a.cx} ${a.cy})`}
            fill="#000"
          >
            {a.text}
          </text>
        ))}
        <text
          x={590}
          y={497}
          fontSize={20}
          fontWeight="bold"
          textAnchor="middle"
          dominantBaseline="central"
          transform="rotate(-35.6 590 497)"
          fill="#000"
        >
          Death line
        </text>
        <text x={588} y={700} fontSize={20} textAnchor="middle" fill="#000">
          {'Period\u00a0\u00a0[s]'}
        </text>
        <text transform="translate(29 331) rotate(-90)" fontSize={20} textAnchor="middle" fill="#000">
          {'Period Derivative\u00a0\u00a0[s s'}
          <tspan dy={-8} fontSize={14}>{'\u22121'}</tspan>
          <tspan dy={8}>]</tspan>
        </text>
      </svg>
    </div>
  );
}
